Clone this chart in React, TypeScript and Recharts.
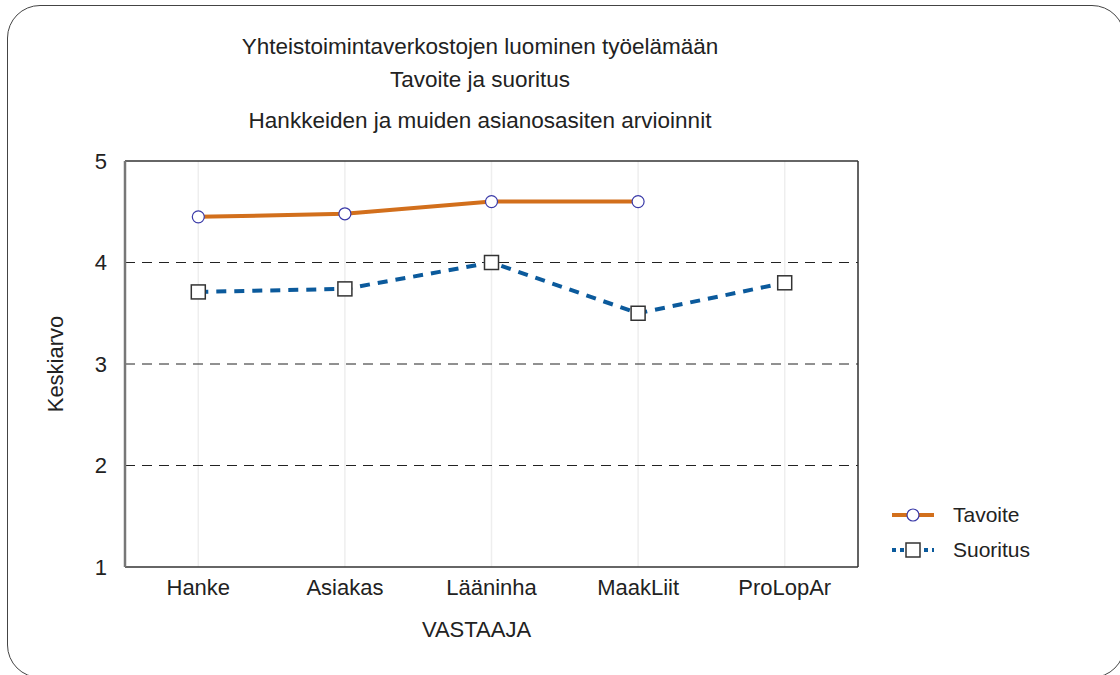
import React from "react";
import {
  CartesianGrid,
  Label,
  Line,
  LineChart,
  ReferenceLine,
  XAxis,
  YAxis,
} from "recharts";

const categories = ["Hanke", "Asiakas", "Lääninha", "MaakLiit", "ProLopAr"];
const tavoite = [4.45, 4.48, 4.6, 4.6, null];
const suoritus = [3.71, 3.74, 4.0, 3.5, 3.8];

const yTicks = [1, 2, 3, 4, 5];
const minorTicks = [1.2, 1.4, 1.6, 1.8, 2, 2.2, 2.4, 2.6, 2.8, 3, 3.2, 3.4, 3.6, 3.8, 4, 4.2, 4.4, 4.6, 4.8];
const dashedLevels = [2, 3, 4];
const titleLines = [
  "Yhteistoimintaverkostojen luominen työelämään",
  "Tavoite ja suoritus",
  "Hankkeiden ja muiden asianosasiten arvioinnit",
];
const seriesNames = ["Tavoite", "Suoritus"];

const data = categories.map((name, i) => ({
  name,
  tavoite: tavoite[i],
  suoritus: suoritus[i],
}));

const FONT = '"Liberation Sans", Arial, Helvetica, sans-serif';
const ORANGE = "#d26f1c";
const BLUE = "#0b5a9c";
const tickFont = { fill: "#222", fontSize: 22, fontFamily: FONT };

function SquareDot(props: any) {
  const { cx, cy } = props;
  if (cx == null || cy == null) return null;
  return (
    <rect x={cx - 7} y={cy - 7} width={14} height={14} fill="#fff" stroke="#333" strokeWidth={1.5} />
  );
}

function LegendBox() {
  return (
    <div style={{ position: "absolute", left: 892, top: 497, fontFamily: FONT, fontSize: 21, color: "#222" }}>
      {seriesNames.map((n, i) => (
        <div key={n} style={{ display: "flex", alignItems: "center", height: 35 }}>
          <svg width={44} height={16} style={{ marginRight: 17 }}>
            {i === 0 ? (
              <>
                <line x1={0} y1={8} x2={42} y2={8} stroke={ORANGE} strokeWidth={4} />
                <circle cx={21} cy={8} r={6} fill="#fff" stroke="#3a3aa8" strokeWidth={1.2} />
              </>
            ) : (
              <>
                <line x1={0} y1={8} x2={42} y2={8} stroke={BLUE} strokeWidth={4} strokeDasharray="4 4" />
                <rect x={14} y={1} width={14} height={14} fill="#fff" stroke="#333" strokeWidth={1.5} />
              </>
            )}
          </svg>
          <span>{n}</span>
        </div>
      ))}
    </div>
  );
}

export default function App() {
  return (
    <div style={{ position: "absolute", left: 0, top: 0, width: 1120, height: 675, overflow: "hidden", background: "#fff" }}>
      <div
        style={{
          position: "absolute",
          left: 7,
          top: 5,
          width: 1118,
          height: 673,
          boxSizing: "border-box",
          border: "1.5px solid #444",
          borderRadius: 33,
        }}
      />
      {titleLines.map((t, i) => (
        <div
          key={t}
          style={{
            position: "absolute",
            left: 180,
            width: 600,
            top: [47, 80, 121][i] - 14,
            height: 28,
            lineHeight: "28px",
            textAlign: "center",
            fontFamily: FONT,
            fontSize: 22.5,
            color: "#222",
          }}
        >
          {t}
        </div>
      ))}
      <div style={{ position: "absolute", left: 0, top: 0 }}>
        <LineChart width={1120} height={675} data={data} margin={{ top: 161, right: 262, bottom: 33, left: 50 }}>
          <CartesianGrid horizontal={false} stroke="#eeeeee" strokeWidth={1.5} />
          {dashedLevels.map((v) => (
            <ReferenceLine key={v} y={v} stroke="#222" strokeDasharray="10 7" strokeWidth={1} />
          ))}
          <XAxis
            dataKey="name"
            scale="band"
            height={75}
            tick={tickFont}
            tickLine={false}
            tickSize={0}
            tickMargin={12}
            axisLine={{ stroke: "#333", strokeWidth: 1.5 }}
          >
            <Label value="VASTAAJA" position="insideBottom" offset={5} dx={-15} style={{ fill: "#222", fontSize: 22, fontFamily: FONT }} />
          </XAxis>
          <XAxis xAxisId="bm" dataKey="name" scale="band" orientation="bottom" mirror height={1} tick={false} tickSize={4} tickLine={{ stroke: "#333" }} axisLine={false} />
          <XAxis xAxisId="tm" dataKey="name" scale="band" orientation="top" mirror height={1} tick={false} tickSize={4} tickLine={{ stroke: "#333" }} axisLine={{ stroke: "#333", strokeWidth: 1.5 }} />
          <YAxis
            type="number"
            domain={[1, 5]}
            ticks={yTicks}
            width={75}
            tick={tickFont}
            tickLine={false}
            tickSize={6}
            tickMargin={12}
            axisLine={{ stroke: "#777", strokeWidth: 2.5 }}
          >
            <Label value="Keskiarvo" angle={-90} position="insideLeft" offset={5} style={{ fill: "#222", fontSize: 22, fontFamily: FONT, textAnchor: "middle" }} />
          </YAxis>
          <YAxis yAxisId="lm" type="number" domain={[1, 5]} ticks={minorTicks} orientation="left" mirror width={1} tick={false} tickSize={3} tickLine={{ stroke: "#333" }} axisLine={false} />
          <YAxis yAxisId="rm" type="number" domain={[1, 5]} ticks={minorTicks} orientation="right" mirror width={1} tick={false} tickSize={3} tickLine={{ stroke: "#333" }} axisLine={{ stroke: "#333", strokeWidth: 1.5 }} />
          <Line
            dataKey="tavoite"
            name="Tavoite"
            stroke={ORANGE}
            strokeWidth={4}
            dot={{ r: 6, fill: "#fff", stroke: "#3a3aa8", strokeWidth: 1.2 }}
            activeDot={false}
            isAnimationActive={false}
          />
          <Line
            dataKey="suoritus"
            name="Suoritus"
            stroke={BLUE}
            strokeWidth={4}
            strokeDasharray="10 8"
            dot={<SquareDot />}
            activeDot={false}
            isAnimationActive={false}
          />
        </LineChart>
      </div>
      <LegendBox />
    </div>
  );
}
